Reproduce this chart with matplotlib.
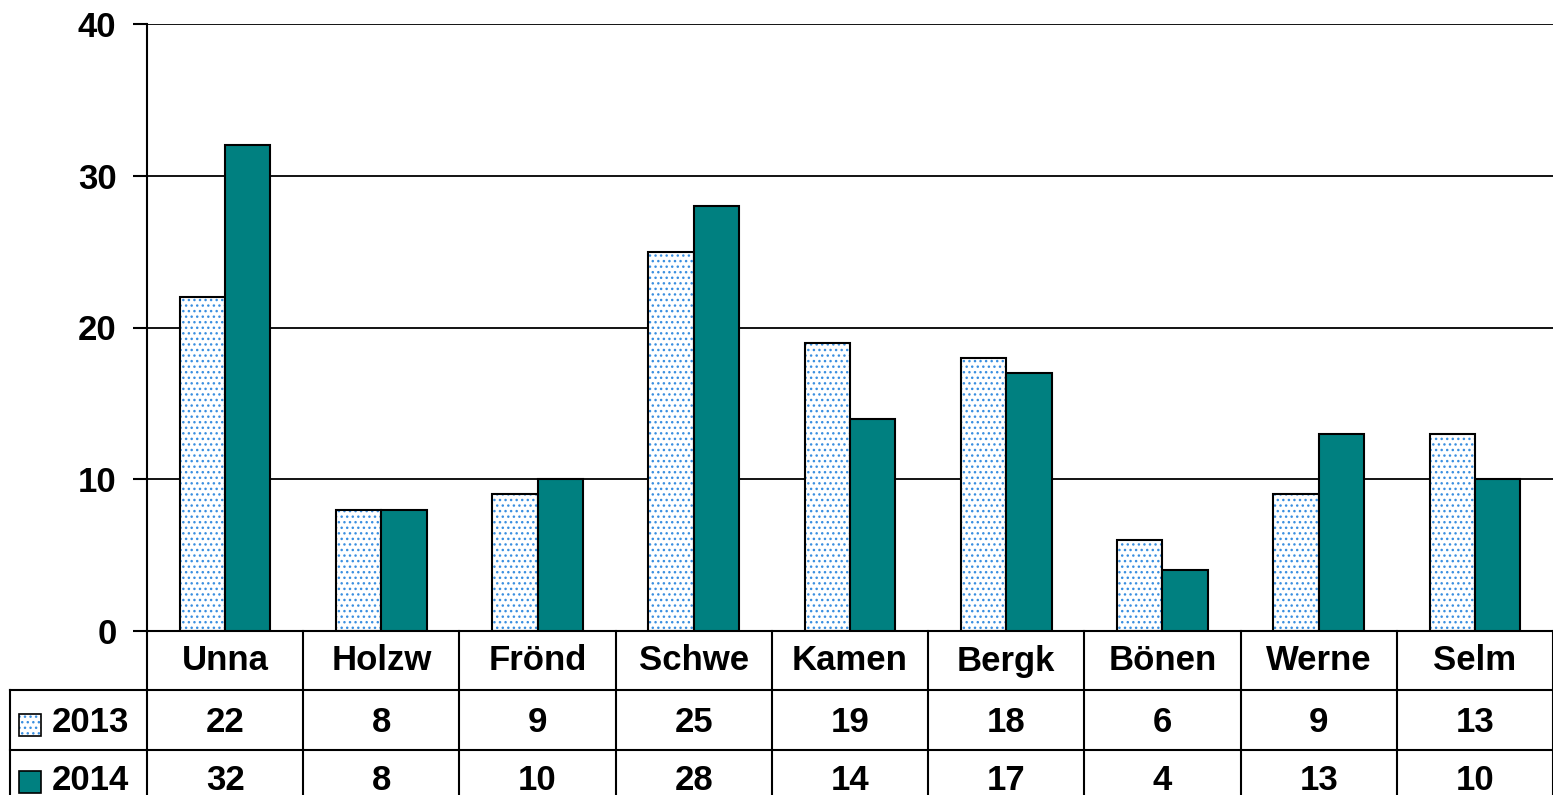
import matplotlib.pyplot as plt
from matplotlib.patches import Rectangle
import numpy as np

# data
orte = ['Unna', 'Holzw', 'Frönd', 'Schwe', 'Kamen', 'Bergk', 'Bönen', 'Werne', 'Selm']
werte_2013 = [22, 8, 9, 25, 19, 18, 6, 9, 13]
werte_2014 = [32, 8, 10, 28, 14, 17, 4, 13, 10]
jahre = ['2013', '2014']
y_ticks = [0, 10, 20, 30, 40]

plt.rcParams['font.family'] = ['Liberation Sans', 'DejaVu Sans']
plt.rcParams['font.weight'] = 'bold'

W, H = 1553, 795
fig = plt.figure(figsize=(W / 100, H / 100), dpi=100)
ax = fig.add_axes([147 / W, 1 - 631 / H, 1 - 147 / W, (631 - 24) / H])

teal = '#008080'
dots = '#3a8fe0'
x = np.arange(len(orte))
bw = 0.29

# grid lines behind bars
for t in y_ticks[1:]:
    ax.axhline(t, color='black', lw=1.3, zorder=0)

# 2013: dotted fill, black outline
ax.bar(x - bw / 2, werte_2013, bw, color='white', edgecolor=dots, hatch='...', lw=0, zorder=2)
ax.bar(x - bw / 2, werte_2013, bw, fill=False, edgecolor='black', lw=1.5, zorder=3)
# 2014: teal
ax.bar(x + bw / 2, werte_2014, bw, color=teal, edgecolor='black', lw=1.5, zorder=3)

ax.set_xlim(-0.5, len(orte) - 0.5)
ax.set_ylim(0, 40)
ax.set_yticks(y_ticks)
ax.tick_params(axis='y', labelsize=25, length=10, width=1.5, pad=12)
ax.set_xticks([])
for s in ['top', 'right']:
    ax.spines[s].set_visible(False)
ax.spines['left'].set_linewidth(1.5)
ax.spines['bottom'].set_linewidth(1.5)
for lab in ax.get_yticklabels():
    lab.set_fontweight('bold')

# data table below axes
def ay(py):
    return (631 - py) / (631 - 24)

tr = ax.get_xaxis_transform()
lw = 1.5
y_hdr, y_r1, y_r2 = ay(690), ay(750), ay(810)
# vertical separators between categories
for i in range(len(orte) + 1):
    ax.plot([i - 0.5, i - 0.5], [0, y_r2], transform=tr, color='black', lw=lw, clip_on=False)
# horizontal lines (extend into legend column)
x_leg = 10 / W
for yy in [y_hdr, y_r1]:
    ax.plot([-0.5, len(orte) - 0.5], [yy, yy], transform=tr, color='black', lw=lw, clip_on=False)
    fig.add_artist(plt.Line2D([x_leg, 147 / W], [1 - (631 - yy * 607) / H] * 2,
                              transform=fig.transFigure, color='black', lw=lw))
fig.add_artist(plt.Line2D([x_leg, x_leg], [1 - 690 / H, 0], transform=fig.transFigure,
                          color='black', lw=lw))

for i, name in enumerate(orte):
    ax.text(i, ay(661), name, transform=tr, ha='center', va='center', fontsize=25, fontweight='bold')
    ax.text(i, ay(723), str(werte_2013[i]), transform=tr, ha='center', va='center', fontsize=25, fontweight='bold')
    ax.text(i, ay(780), str(werte_2014[i]), transform=tr, ha='center', va='center', fontsize=25, fontweight='bold')

# legend keys in table
for j, (jahr, yc) in enumerate(zip(jahre, [725, 782])):
    sq = 22
    x0, y0 = 19 / W, 1 - (yc + sq / 2) / H
    if j == 0:
        fig.add_artist(Rectangle((x0, y0), sq / W, sq / H, transform=fig.transFigure,
                                 facecolor='white', edgecolor=dots, hatch='...', lw=0))
        fig.add_artist(Rectangle((x0, y0), sq / W, sq / H, transform=fig.transFigure,
                                 fill=False, edgecolor='black', lw=1.2))
    else:
        fig.add_artist(Rectangle((x0, y0), sq / W, sq / H, transform=fig.transFigure,
                                 facecolor=teal, edgecolor='black', lw=1.2))
    fig.text(52 / W, 1 - (yc - 2) / H, jahr, ha='left', va='center', fontsize=25, fontweight='bold')

fig.savefig('out.png', dpi=100)
